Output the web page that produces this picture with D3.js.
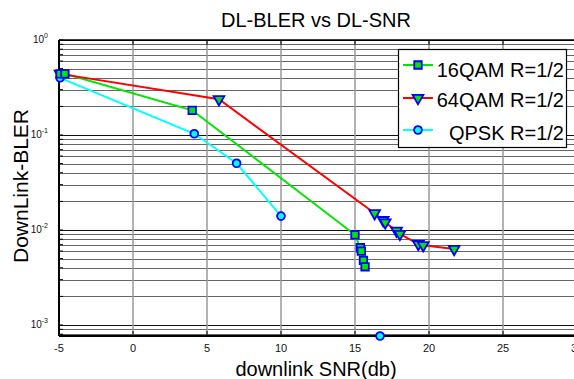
<!DOCTYPE html>
<html>
<head>
<meta charset="utf-8">
<script src="https://cdn.jsdelivr.net/npm/d3@7"></script>
<style>
  body { margin: 0; background: #fff; }
  svg { display: block; font-family: "Liberation Sans", Arial, sans-serif; }
</style>
</head>
<body>
<div id="chart"></div>
<script>
// SNR (dB) and BLER
const snr16qam = [-4.93, -4.6, 4.0, 15.0, 15.36, 15.43, 15.57, 15.68];
const bler16qam = [0.44, 0.44, 0.182, 0.0089, 0.0065, 0.0060, 0.0048, 0.0041];

const snr64qam = [-4.93, 5.81, 16.33, 16.9, 17.04, 17.81, 18.03, 19.28, 19.61, 21.7];
const bler64qam = [0.44, 0.2375, 0.0150, 0.0127, 0.0120, 0.0098, 0.0091, 0.0071, 0.0069, 0.0063];

// last QPSK point has zero errors and sits on the bottom of the axis
const snrQpsk = [-4.93, 4.14, 7.0, 10.0, 16.69];
const blerQpsk = [0.40, 0.103, 0.0504, 0.0140, 0];

const seriesNames = ['16QAM R=1/2', '64QAM R=1/2', 'QPSK R=1/2'];
const xTicks = [-5, 0, 5, 10, 15, 20, 25, 30];
const yDecades = [0, -1, -2, -3];

const width = 574, height = 379;
const plot = { left: 59, right: 577, top: 40, bottom: 336 };
const yMin = Math.pow(10, -3.116);

const svg = d3.select('#chart').append('svg')
    .attr('width', width)
    .attr('height', height);

const x = d3.scaleLinear().domain([-5, 30]).range([plot.left, plot.right]);
const y = d3.scaleLog().domain([yMin, 1]).range([plot.bottom, plot.top]);
const yc = v => y(Math.max(v, yMin));

// grid
const grid = svg.append('g');
grid.selectAll('.hgrid')
    .data(y.ticks())
    .enter().append('line')
    .attr('x1', plot.left).attr('x2', width)
    .attr('y1', d => Math.round(y(d)) + 0.5).attr('y2', d => Math.round(y(d)) + 0.5)
    .attr('stroke', d => Math.abs(Math.log10(d) - Math.round(Math.log10(d))) < 1e-6 ? '#111' : '#666')
    .attr('stroke-width', 1);

grid.selectAll('.vgrid')
    .data(xTicks.slice(1))
    .enter().append('line')
    .attr('x1', d => x(d)).attr('x2', d => x(d))
    .attr('y1', plot.top).attr('y2', plot.bottom)
    .attr('stroke', '#999')
    .attr('stroke-width', 1.5);

// axes frame
const axisG = svg.append('g');
axisG.append('line')
    .attr('x1', plot.left).attr('x2', plot.left)
    .attr('y1', plot.top).attr('y2', plot.bottom)
    .attr('stroke', '#000').attr('stroke-width', 2);
axisG.append('line')
    .attr('x1', plot.left).attr('x2', width)
    .attr('y1', plot.bottom).attr('y2', plot.bottom)
    .attr('stroke', '#000').attr('stroke-width', 2);
axisG.append('line')
    .attr('x1', plot.left).attr('x2', width)
    .attr('y1', plot.top).attr('y2', plot.top)
    .attr('stroke', '#000').attr('stroke-width', 1.5);

// x ticks (inside, top and bottom)
axisG.selectAll('.xtb')
    .data(xTicks)
    .enter().append('line')
    .attr('x1', d => x(d)).attr('x2', d => x(d))
    .attr('y1', plot.bottom).attr('y2', plot.bottom - 5)
    .attr('stroke', '#000');
axisG.selectAll('.xtt')
    .data(xTicks)
    .enter().append('line')
    .attr('x1', d => x(d)).attr('x2', d => x(d))
    .attr('y1', plot.top).attr('y2', plot.top + 5)
    .attr('stroke', '#000');
axisG.selectAll('.ytl')
    .data(y.ticks())
    .enter().append('line')
    .attr('x1', plot.left).attr('x2', plot.left + 4)
    .attr('y1', d => y(d)).attr('y2', d => y(d))
    .attr('stroke', '#000');

// x tick labels
axisG.selectAll('.xlab')
    .data(xTicks)
    .enter().append('text')
    .attr('x', d => x(d))
    .attr('y', plot.bottom + 16)
    .attr('text-anchor', 'middle')
    .attr('font-size', 11)
    .attr('fill', '#111')
    .text(d => d);

// y tick labels 10^k
const ylab = axisG.selectAll('.ylab')
    .data(yDecades)
    .enter().append('text')
    .attr('x', plot.left - 11)
    .attr('y', d => y(Math.pow(10, d)) + 3)
    .attr('text-anchor', 'end')
    .attr('font-size', 10)
    .attr('fill', '#111');
ylab.append('tspan').text('10');
ylab.append('tspan')
    .attr('dy', -5)
    .attr('font-size', 7)
    .text(d => d);

// series
const lineGen = d3.line()
    .defined(d => d[1] > 0)
    .x(d => x(d[0]))
    .y(d => y(d[1]));

const pts16 = snr16qam.map((s, i) => [s, bler16qam[i]]);
const pts64 = snr64qam.map((s, i) => [s, bler64qam[i]]);
const ptsQ = snrQpsk.map((s, i) => [s, blerQpsk[i]]);

const series = svg.append('g');
series.append('path').datum(pts16)
    .attr('d', lineGen).attr('fill', 'none').attr('stroke', '#00e600').attr('stroke-width', 2);
series.append('path').datum(pts64)
    .attr('d', lineGen).attr('fill', 'none').attr('stroke', '#ff0000').attr('stroke-width', 2);
series.append('path').datum(ptsQ.filter(d => d[1] > 0))
    .attr('d', lineGen).attr('fill', 'none').attr('stroke', '#00ffff').attr('stroke-width', 2);

const square = d3.symbol().type(d3.symbolSquare).size(56);
const tri = d3.symbol().type(d3.symbolTriangle).size(50);
const circ = d3.symbol().type(d3.symbolCircle).size(48);

function markers(g, pts, sym, fill, rot) {
    g.selectAll(null)
        .data(pts)
        .enter().append('path')
        .attr('d', sym)
        .attr('transform', d => `translate(${x(d[0])},${yc(d[1])})${rot ? ' rotate(180)' : ''}`)
        .attr('fill', fill)
        .attr('stroke', '#0000ff')
        .attr('stroke-width', 1.8);
}
markers(series, pts64, tri, '#00e600', true);
markers(series, ptsQ, circ, '#00ffff', false);
markers(series, pts16, square, '#00e600', false);

// titles
svg.append('text')
    .attr('x', 316).attr('y', 27)
    .attr('text-anchor', 'middle')
    .attr('font-size', 20)
    .text('DL-BLER vs DL-SNR');
svg.append('text')
    .attr('x', 316).attr('y', 376)
    .attr('text-anchor', 'middle')
    .attr('font-size', 20)
    .text('downlink SNR(db)');
svg.append('text')
    .attr('transform', 'translate(28,186) rotate(-90)')
    .attr('text-anchor', 'middle')
    .attr('font-size', 21)
    .text('DownLink-BLER');

// legend
const legend = svg.append('g');
legend.append('rect')
    .attr('x', 398.5).attr('y', 49.5)
    .attr('width', 168).attr('height', 98)
    .attr('fill', '#fff')
    .attr('stroke', '#000')
    .attr('stroke-width', 1.2);

const legendRows = [
    { name: seriesNames[0], color: '#00e600', sym: square, fill: '#00e600', rot: false, ly: 65, ty: 77 },
    { name: seriesNames[1], color: '#ff0000', sym: tri, fill: '#00e600', rot: true, ly: 98, ty: 107 },
    { name: seriesNames[2], color: '#00ffff', sym: circ, fill: '#00ffff', rot: false, ly: 130, ty: 140 }
];
const rows = legend.selectAll('.row')
    .data(legendRows)
    .enter().append('g');
rows.append('line')
    .attr('x1', 403).attr('x2', 433)
    .attr('y1', d => d.ly).attr('y2', d => d.ly)
    .attr('stroke', d => d.color).attr('stroke-width', 2);
rows.append('path')
    .attr('d', d => d.sym())
    .attr('transform', d => `translate(418,${d.ly})${d.rot ? ' rotate(180)' : ''}`)
    .attr('fill', d => d.fill)
    .attr('stroke', '#0000ff')
    .attr('stroke-width', 1.8);
rows.append('text')
    .attr('x', 564).attr('y', d => d.ty)
    .attr('text-anchor', 'end')
    .attr('font-size', 20)
    .text(d => d.name);
</script>
</body>
</html>
